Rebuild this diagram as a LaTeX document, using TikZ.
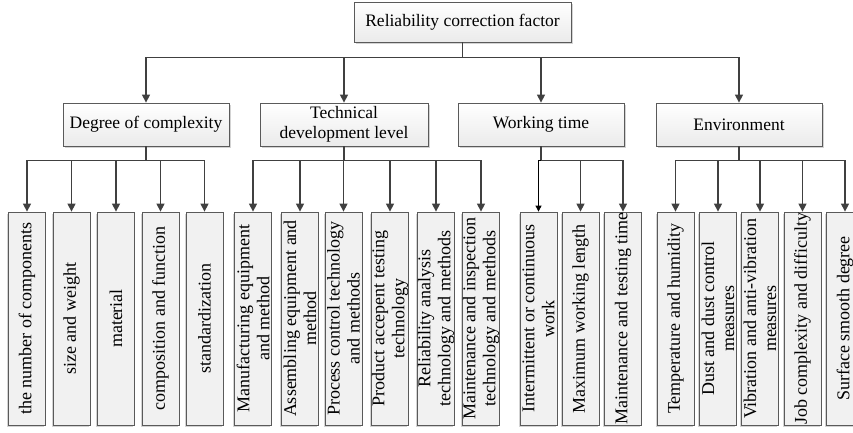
\documentclass[tikz,border=0pt]{standalone}
\usepackage{fontspec}
\setmainfont{Liberation Serif}
\usetikzlibrary{arrows.meta,shadows}
\definecolor{linec}{HTML}{404040}
\definecolor{boxc}{HTML}{5A5A5A}
\tikzset{
  topbox/.style={draw=boxc, line width=0.8pt, top color=white, bottom color=gray!16,
    drop shadow={shadow xshift=1.5pt, shadow yshift=-1.5pt, opacity=0.35, fill=gray},
    minimum height=43, inner sep=1pt, align=center,
    font=\fontsize{17.5}{20}\selectfont},
  leafbox/.style={draw=boxc, line width=0.8pt, fill={rgb,255:red,241;green,241;blue,241},
    drop shadow={shadow xshift=-1.5pt, shadow yshift=-1.5pt, opacity=0.35, fill=gray},
    rotate=90, minimum width=213, minimum height=37, inner sep=0pt,
    align=center, font=\fontsize{18}{20}\selectfont},
  conn/.style={draw=linec, line width=1.3pt, -{Triangle[width=8pt,length=8pt]}},
  thinconn/.style={draw=black, line width=0.8pt, -{Triangle[width=6pt,length=6pt]}},
  stem/.style={draw=linec, line width=1.8pt},
}
\begin{document}
\begin{tikzpicture}[x=1pt,y=-1pt]
\useasboundingbox (0,0) rectangle (853,432);
\clip (0,0) rectangle (853,432);
% level 1
\node[topbox, minimum width=217, minimum height=40] (top) at (462.5,22) {Reliability correction factor};
% level 2
\node[topbox, minimum width=166] (deg) at (146,124.5) {Degree of complexity};
\node[topbox, minimum width=168] (tech) at (344,124.5) {Technical\\development level};
\node[topbox, minimum width=166] (work) at (541,124.5) {Working time};
\node[topbox, minimum width=166] (env) at (739,124.5) {Environment};
% level 3
\node[leafbox] (d1) at (27,318.5) {the number of components};
\node[leafbox] (d2) at (71.5,318.5) {size and weight};
\node[leafbox] (d3) at (116,318.5) {material};
\node[leafbox] (d4) at (160.5,318.5) {composition and function};
\node[leafbox] (d5) at (204.5,318.5) {standardization};
\node[leafbox] (t1) at (253,318.5) {Manufacturing equipment\\and method};
\node[leafbox] (t2) at (300,318.5) {Assembling equipment and\\method};
\node[leafbox] (t3) at (343.5,318.5) {Process control technology\\and methods};
\node[leafbox] (t4) at (390,318.5) {Product accepent testing\\technology};
\node[leafbox] (t5) at (436,318.5) {Reliability analysis\\technology and methods};
\node[leafbox] (t6) at (481,318.5) {Maintenance and inspection\\technology and methods};
\node[leafbox] (w1) at (538.5,318.5) {Intermittent or continuous\\work};
\node[leafbox] (w2) at (580.5,318.5) {Maximum working length};
\node[leafbox] (w3) at (623,318.5) {Maintenance and testing time};
\node[leafbox] (e1) at (675.5,318.5) {Temperature and humidity};
\node[leafbox] (e2) at (718,318.5) {Dust and dust control\\measures};
\node[leafbox] (e3) at (760,318.5) {Vibration and anti-vibration\\measures};
\node[leafbox] (e4) at (802.5,318.5) {Job complexity and difficulty};
\node[leafbox] (e5) at (845,318.5) {Surface smooth degree};
% connectors level 1 -> 2
\draw[stem] (top.south) -- ++(0,15);
\foreach \c in {deg,tech,work,env}
  \draw[conn] (top.south) ++(0,15) -| (\c.north);
% connectors level 2 -> 3
\draw[stem] (deg.south) -- ++(0,14);
\foreach \c in {d1,d2,d3,d4,d5}
  \draw[conn] (deg.south) ++(0,14) -| (\c.east);
\draw[stem] (tech.south) -- ++(0,14);
\foreach \c in {t1,t2,t3,t4,t5,t6}
  \draw[conn] (tech.south) ++(0,14) -| (\c.east);
\draw[stem] (work.south) -- ++(0,14);
\draw[thinconn] (work.south) ++(0,14) -| (w1.east);
\foreach \c in {w2,w3}
  \draw[conn] (work.south) ++(0,14) -| (\c.east);
\draw[stem] (env.south) -- ++(0,14);
\foreach \c in {e1,e2,e3,e4,e5}
  \draw[conn] (env.south) ++(0,14) -| (\c.east);
\end{tikzpicture}
\end{document}
